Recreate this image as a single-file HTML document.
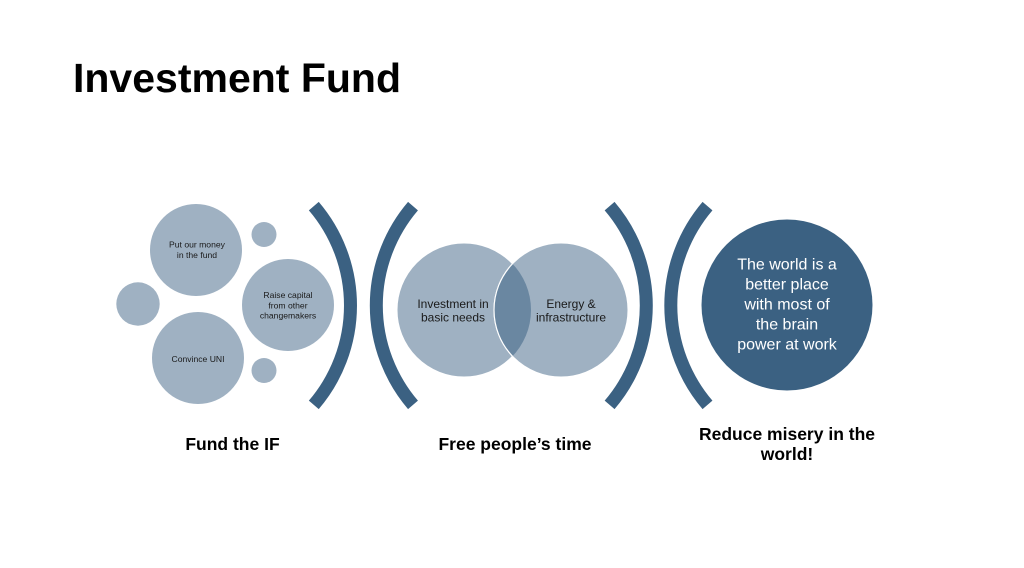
<!DOCTYPE html>
<html>
<head>
<meta charset="utf-8">
<style>
  html, body { margin: 0; padding: 0; background: #ffffff; }
  body { width: 1024px; height: 568px; overflow: hidden; }
  svg { display: block; }
  text { font-family: "Liberation Sans", Arial, sans-serif; }
</style>
</head>
<body>
<svg width="1024" height="568" viewBox="0 0 1024 568" xmlns="http://www.w3.org/2000/svg">
  <rect x="0" y="0" width="1024" height="568" fill="#ffffff"/>

  <!-- Title -->
  <text x="73" y="92" font-size="41" font-weight="bold" fill="#000000">Investment Fund</text>

  <!-- Left cluster circles -->
  <g fill="#9fb1c2">
    <circle cx="196" cy="250" r="46"/>
    <circle cx="264" cy="234.5" r="12.5"/>
    <circle cx="138" cy="304" r="21.7"/>
    <circle cx="288" cy="305" r="46"/>
    <circle cx="198" cy="358" r="46"/>
    <circle cx="264" cy="370.5" r="12.5"/>
  </g>
  <g font-size="8.6" fill="#1a1a1a" text-anchor="middle">
    <text x="197" y="247.5">Put our money</text>
    <text x="197" y="258">in the fund</text>
    <text x="288" y="298">Raise capital</text>
    <text x="288" y="308.5">from other</text>
    <text x="288" y="318.5">changemakers</text>
    <text x="198" y="362">Convince UNI</text>
  </g>

  <!-- Brackets -->
  <g fill="none" stroke="#3b6182" stroke-width="13">
    <path d="M 313.8 206.1 A 153 153 0 0 1 313.8 404.9"/>
    <path d="M 413 206.1 A 153 153 0 0 0 413 404.9"/>
    <path d="M 609.6 206.1 A 153 153 0 0 1 609.6 404.9"/>
    <path d="M 707.5 206.1 A 153 153 0 0 0 707.5 404.9"/>
  </g>

  <!-- Venn -->
  <defs>
    <clipPath id="clipL"><circle cx="464" cy="310" r="67"/></clipPath>
  </defs>
  <circle cx="464" cy="310" r="67" fill="#9fb1c2" stroke="#ffffff" stroke-width="1"/>
  <circle cx="561" cy="310" r="67" fill="#9fb1c2" stroke="#ffffff" stroke-width="1"/>
  <circle cx="561" cy="310" r="67" fill="#6a87a1" clip-path="url(#clipL)"/>
  <circle cx="561" cy="310" r="67" fill="none" stroke="#ffffff" stroke-width="1.2" clip-path="url(#clipL)"/>
  <g font-size="12" fill="#1a1a1a" text-anchor="middle">
    <text x="453" y="308">Investment in</text>
    <text x="453" y="321.5">basic needs</text>
    <text x="571" y="308">Energy &amp;</text>
    <text x="571" y="321.5">infrastructure</text>
  </g>

  <!-- Dark circle -->
  <circle cx="787" cy="305" r="85.5" fill="#3b6182"/>
  <g font-size="16" fill="#ffffff" text-anchor="middle">
    <text x="787" y="269.5">The world is a</text>
    <text x="787" y="289.5">better place</text>
    <text x="787" y="309.5">with most of</text>
    <text x="787" y="329.5">the brain</text>
    <text x="787" y="349.5">power at work</text>
  </g>

  <!-- Bottom labels -->
  <g font-size="17.5" font-weight="bold" fill="#000000" text-anchor="middle">
    <text x="232.5" y="450">Fund the IF</text>
    <text x="515" y="450">Free people’s time</text>
    <text x="787" y="440">Reduce misery in the</text>
    <text x="787" y="460">world!</text>
  </g>
</svg>
</body>
</html>
